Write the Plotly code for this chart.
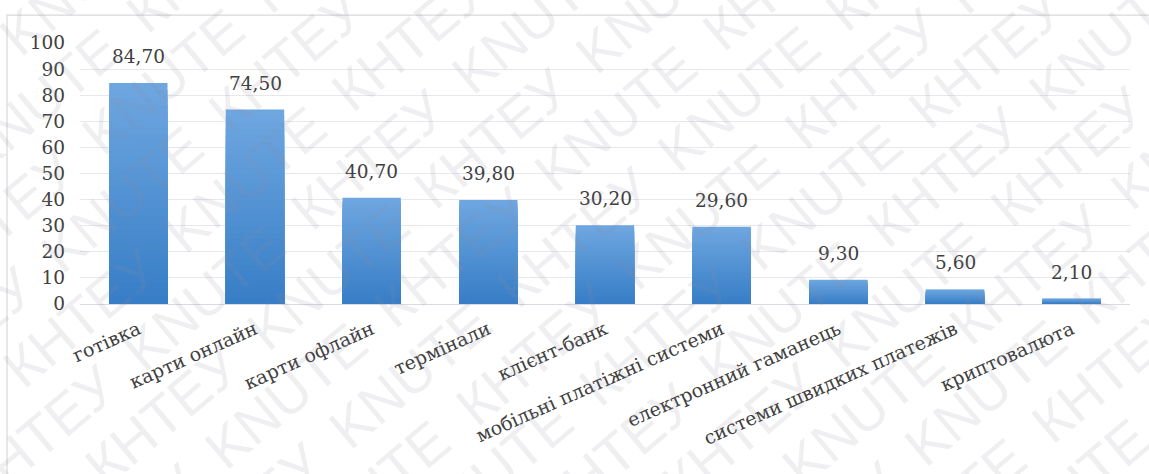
import math
import plotly.graph_objects as go

# Payment methods and their shares, %
categories = [
    "готівка",
    "карти онлайн",
    "карти офлайн",
    "термінали",
    "клієнт-банк",
    "мобільні платіжні системи",
    "електронний гаманець",
    "системи швидких платежів",
    "криптовалюта",
]
values = [84.70, 74.50, 40.70, 39.80, 30.20, 29.60, 9.30, 5.60, 2.10]
y_ticks = [0, 10, 20, 30, 40, 50, 60, 70, 80, 90, 100]

SERIF = "DejaVu Serif"
TEXT = "#404040"

TOP_RGB = (110, 166, 224)
BOTTOM_RGB = (56, 126, 198)
N_LAYERS = 30

W, H = 1149, 474
ML, MR, MT, MB = 80, 19, 43, 170
PW, PH = W - ML - MR, H - MT - MB


def lerp_color(a, b, t):
    return "rgb({},{},{})".format(*[round(a[i] + (b[i] - a[i]) * t) for i in range(3)])


fig = go.Figure()

# Vertical gradient built from stacked overlay layers (light top, dark base)
for k in range(N_LAYERS):
    frac = 1 - k / N_LAYERS
    fig.add_trace(go.Bar(
        x=categories,
        y=[v * frac for v in values],
        marker=dict(color=lerp_color(TOP_RGB, BOTTOM_RGB, k / (N_LAYERS - 1)), line=dict(width=0)),
        showlegend=False,
        hoverinfo="skip" if k else "x+y",
    ))

# Value labels above each bar
for c, v in zip(categories, values):
    fig.add_annotation(
        x=c, y=v, xref="x", yref="y",
        text=f"{v:.2f}".replace(".", ","),
        showarrow=False, yanchor="bottom", yshift=14,
        font=dict(family=SERIF, size=18.5, color=TEXT),
    )

# Outer frame of the chart area
fig.add_shape(type="rect", xref="paper", yref="paper",
              x0=-0.0695, y0=-1.0, x1=1.2, y1=1.107,
              line=dict(color="#d9d9d9", width=1.2), layer="below")

# Diagonal watermark: words tiled along rows tilted 40 degrees
ang = math.radians(40)
ux, uy = math.cos(ang), -math.sin(ang)      # along a row (screen px, y down)
nx, ny = math.sin(ang), math.cos(ang)       # across rows
step_along, step_across = 215, 64
wm_words = ["КНТЕУ", "KNUTE"]
cx, cy = W / 2, H / 2
for r in range(-12, 13):
    for a in range(-8, 9):
        shift = (r % 2) * step_along / 2
        px = cx + (a * step_along + shift) * ux + r * step_across * nx
        py = cy + (a * step_along + shift) * uy + r * step_across * ny
        if -90 < px < W + 90 and -70 < py < H + 70:
            fig.add_annotation(
                x=(px - ML) / PW, y=(H - MB - py) / PH, xref="paper", yref="paper",
                xanchor="center", yanchor="middle",
                text=wm_words[(a + r) % 2], showarrow=False, textangle=-40,
                font=dict(family="Liberation Sans", size=56,
                          color="rgba(140,140,160,0.14)"),
            )

fig.update_layout(
    width=W, height=H,
    margin=dict(l=ML, r=MR, t=MT, b=MB),
    paper_bgcolor="white", plot_bgcolor="white",
    barmode="overlay", bargap=0.5,
    font=dict(family=SERIF, color=TEXT),
    xaxis=dict(
        tickangle=-24, tickfont=dict(family=SERIF, size=19, color=TEXT),
        showgrid=False, showline=False, ticks="", ticklabelstandoff=10,
    ),
    yaxis=dict(
        range=[0, 100], tickvals=y_ticks, tickfont=dict(family=SERIF, size=18.5, color=TEXT),
        showgrid=True, gridcolor="#e6e8ee", gridwidth=1,
        zeroline=True, zerolinecolor="#d5dae3", zerolinewidth=1.2,
        showline=False, ticks="", ticklabelstandoff=14,
    ),
)

fig.write_html("out.html")
